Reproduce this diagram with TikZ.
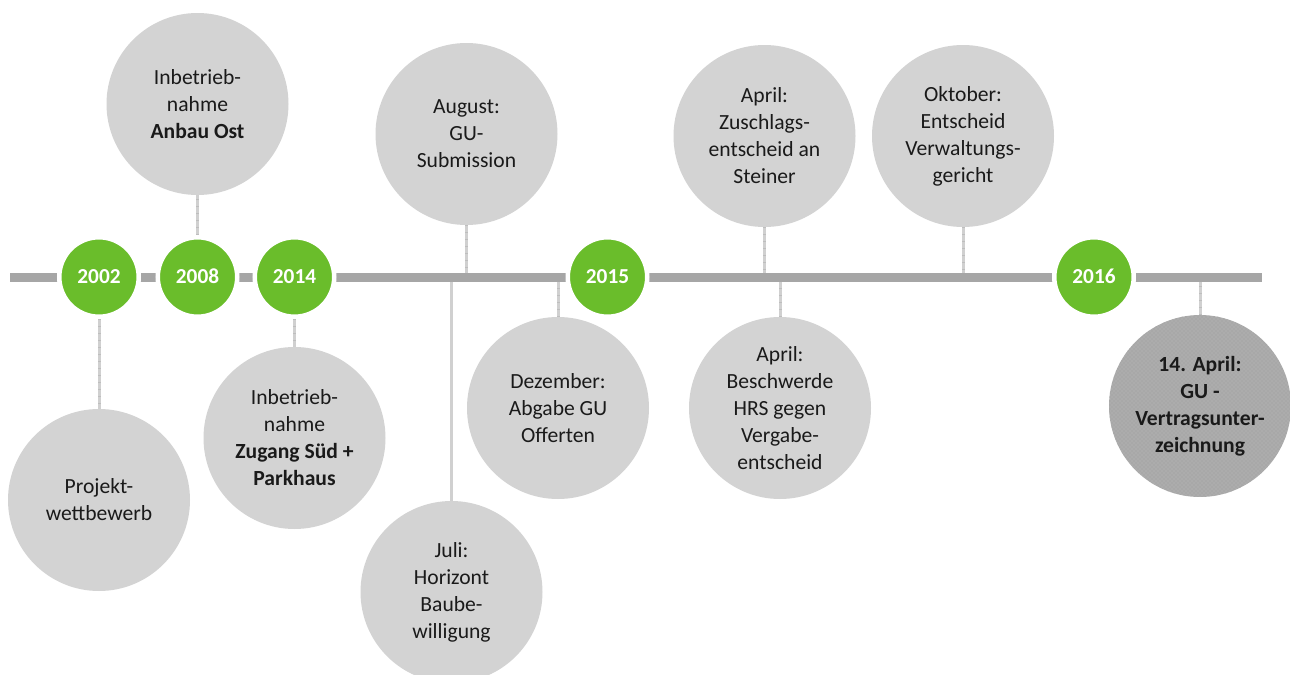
\documentclass[tikz,border=0pt]{standalone}
\usepackage{fontspec}
\setmainfont{Carlito}
\usetikzlibrary{backgrounds,patterns}
\definecolor{bargray}{HTML}{A6A6A6}
\definecolor{congray}{HTML}{D0D0D0}
\definecolor{tickgray}{HTML}{BEBEBE}
\definecolor{circgray}{HTML}{D3D3D3}
\definecolor{darkcirc}{HTML}{ACACAC}
\definecolor{yeargreen}{HTML}{6ABD2B}
\definecolor{txt}{HTML}{1A1A1A}
\tikzset{
  year/.style={circle, fill=yeargreen, draw=white, line width=3.4pt,
    minimum size=59.6pt, inner sep=0pt, text=white,
    text height=0.9em, text depth=0pt,
    font=\fontsize{16}{20}\selectfont\bfseries},
  event/.style={circle, fill=circgray, draw=none, minimum size=136.5pt,
    inner sep=0pt, align=center, text=txt,
    font=\fontsize{16.2}{20.25}\selectfont},
  lastevent/.style={event, preaction={fill=darkcirc},
    pattern=crosshatch dots, pattern color=gray!75!white},
  conn/.style={draw=congray, line width=2.25pt},
  ticked/.style={conn, postaction={draw=tickgray, line width=2.25pt,
    dash pattern=on 0.5pt off 4.75pt}},
  bar/.style={draw=bargray, line width=6.75pt},
}
\begin{document}
\begin{tikzpicture}[x=0.75pt,y=-0.75pt]
\path[use as bounding box] (0,0) rectangle (1290,675);

% year markers
\node[year] (y2002) at (99,277) {2002};
\node[year] (y2008) at (197.5,277) {2008};
\node[year] (y2014) at (294.5,277) {2014};
\node[year] (y2015) at (607.5,277) {2015};
\node[year] (y2016) at (1094,277) {2016};

% events
\node[event] (projekt) at (99,500) {Projekt-\\wettbewerb};
\node[event] (anbau) at (197.5,104) {Inbetrieb-\\nahme\\\textbf{Anbau Ost}};
\node[event] (zugang) at (294.5,438) {Inbetrieb-\\nahme\\\textbf{Zugang Süd +}\\\textbf{Parkhaus}};
\node[event] (august) at (466.5,134) {August:\\GU-\\Submission};
\node[event] (juli) at (451.5,592) {Juli:\\Horizont\\Baube-\\willigung};
\node[event] (dezember) at (558,408) {Dezember:\\Abgabe GU\\Offerten};
\node[event] (zuschlag) at (764.5,136) {April:\\Zuschlags-\\entscheid an\\Steiner};
\node[event] (beschwerde) at (780,408) {April:\\Beschwerde\\HRS gegen\\Vergabe-\\entscheid};
\node[event] (oktober) at (963,136) {Oktober:\\Entscheid\\Verwaltungs-\\gericht};
\node[lastevent] (vertrag) at (1200,406) {\textbf{14. April:}\\\textbf{GU -}\\\textbf{Vertragsunter-}\\\textbf{zeichnung}};

% timeline coordinates
\coordinate (tl) at (10,277);
\coordinate (tr) at (1262,277);
\coordinate (taug) at (466.5,277);
\coordinate (tjuli) at (451.5,277);
\coordinate (tdez) at (558,277);
\coordinate (tzus) at (764.5,277);
\coordinate (tbes) at (780,277);
\coordinate (tokt) at (963,277);
\coordinate (tver) at (1200,277);

\begin{scope}[on background layer]
  \draw[ticked] (y2002.south) -- (projekt.north);
  \draw[ticked] (y2008.north) -- (anbau.south);
  \draw[ticked] (y2014.south) -- (zugang.north);
  \draw[ticked] (august.south) -- (taug);
  \draw[conn] (juli.north) -- (tjuli);
  \draw[ticked] (dezember.north) -- (tdez);
  \draw[ticked] (zuschlag.south) -- (tzus);
  \draw[ticked] (beschwerde.north) -- (tbes);
  \draw[ticked] (oktober.south) -- (tokt);
  \draw[ticked] (vertrag.north) -- (tver);
  \draw[bar] (tl) -- (tr);
\end{scope}
\end{tikzpicture}
\end{document}
